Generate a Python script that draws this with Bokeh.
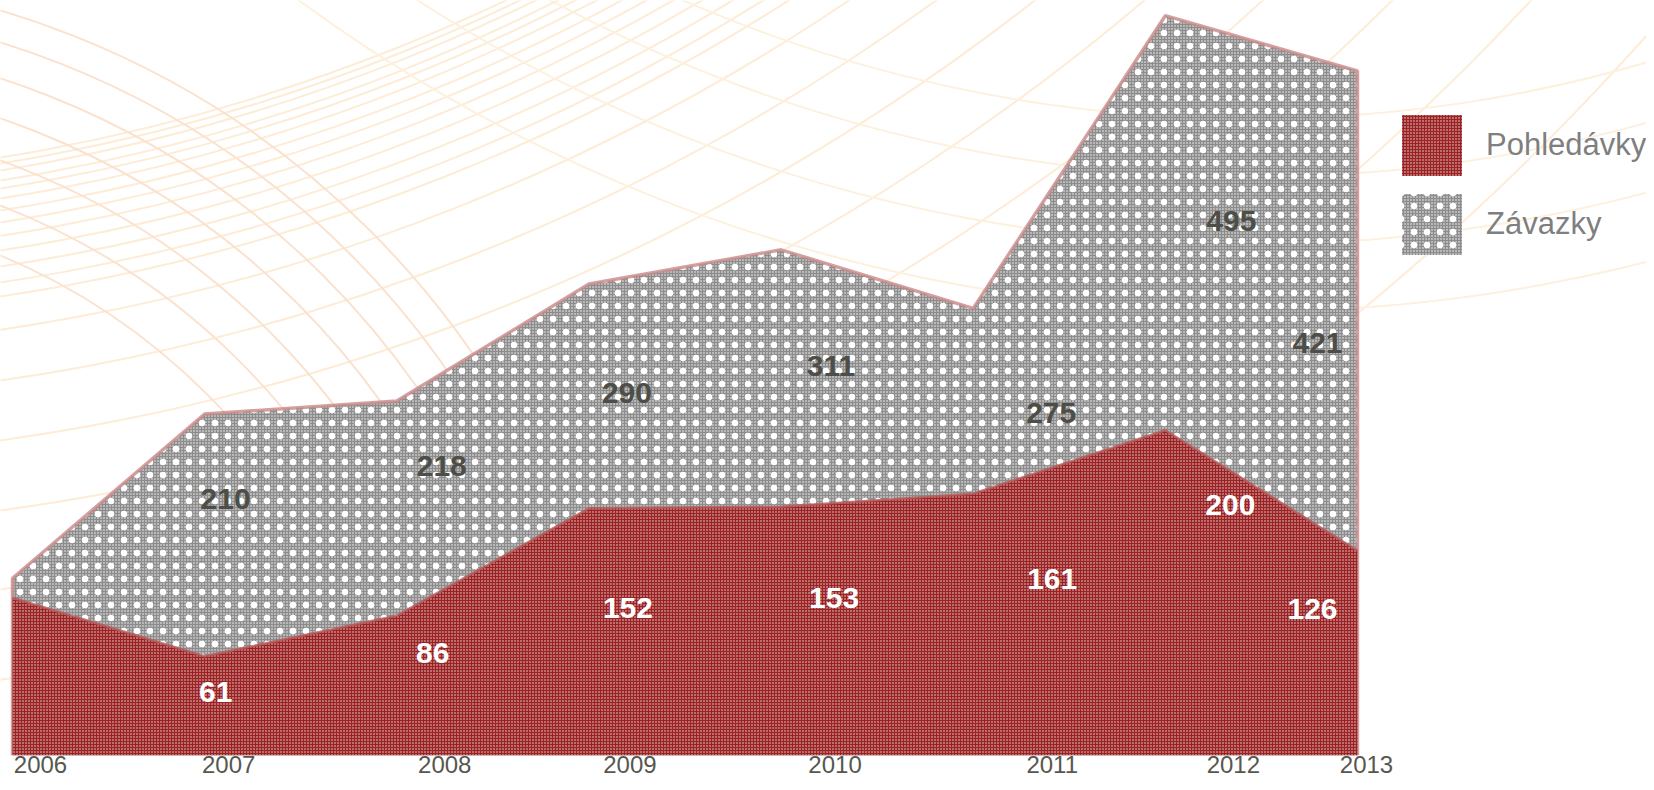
import numpy as np
from bokeh.plotting import figure
from bokeh.models import (ColumnDataSource, Range1d, FixedTicker, CustomJSTickFormatter,
                          Legend, LegendItem)
from bokeh.core.properties import value
from bokeh.embed import file_html
from bokeh.resources import INLINE

# ---------------- data ----------------
years = ["2006", "2007", "2008", "2009", "2010", "2011", "2012", "2013"]
pohledavky = [97, 61, 86, 152, 153, 161, 200, 126]      # plotted heights
zavazky = [109, 210, 218, 290, 311, 275, 455, 421]      # plotted heights
pohledavky_labels = ["61", "86", "152", "153", "161", "200", "126"]   # 2007-2013
zavazky_labels = ["210", "218", "290", "311", "275", "495", "421"]    # 2007-2013

# ---------------- style / layout ----------------
FONT = "Liberation Sans"
W, H = 1646, 782
AXIS_H = 27
FH = H - AXIS_H        # frame height
PX_X = 192.14          # px per category step
PX_Y = 1.626           # px per unit
X0 = -12 / PX_X
X1 = X0 + W / PX_X
Y1 = FH / PX_Y

year_nudge_px = [28, 24, 48, 41, 54, 79, 68, 9]
zav_dx = [21, 45, 38, 50, 78, 66, -40]
zav_dy = [85, 65, 109, 116, 105, 205, 272]
poh_dx = [11, 36, 39, 53, 79, 65, -45]
poh_dy = [36, 37, 100, 91, 85, 75, 58]

idx = list(range(len(years)))

p = figure(width=W, height=H, x_range=Range1d(X0, X1), y_range=Range1d(0, Y1),
           output_backend="svg", toolbar_location=None, y_axis_location=None,
           min_border=0, min_border_left=0, min_border_right=0,
           min_border_top=0, min_border_bottom=AXIS_H)
p.outline_line_color = None
p.xgrid.visible = False
p.ygrid.visible = False
p.background_fill_color = "white"
p.border_fill_color = "white"

# ---------------- decorative background arcs (screen-size circles) ----------------
def dx(px):
    return (px - 12) / PX_X

def dy(py):
    return (FH - py) / PX_Y

# family A: centred far upper-left
ca = (-300, -1700)
a_y0 = [157, 163, 170, 180, 188, 198, 210, 222, 236, 250, 266, 282, 296,
        330, 380, 440, 510, 590, 680, 780, 890]
a_d = [2 * np.hypot(0 - ca[0], y0 - ca[1]) for y0 in a_y0]
p.scatter(x=[dx(ca[0])] * len(a_d), y=[dy(ca[1])] * len(a_d), size=a_d,
          marker="circle", fill_alpha=0, line_color="#fdecd6", line_width=2)
# family B: centred lower-left
cb = (-250, 850)
b_y0 = [10, 42, 78, 118, 160, 205, 255]
b_d = [2 * np.hypot(0 - cb[0], y0 - cb[1]) for y0 in b_y0]
p.scatter(x=[dx(cb[0])] * len(b_d), y=[dy(cb[1])] * len(b_d), size=b_d,
          marker="circle", fill_alpha=0, line_color="#fbe2cf", line_width=2)
# family C: centred upper-right
cc = (1250, -1300)
c_y0 = [60, 120, 190, 260]
c_d = [2 * np.hypot(1654 - cc[0], y0 - cc[1]) for y0 in c_y0]
p.scatter(x=[dx(cc[0])] * len(c_d), y=[dy(cc[1])] * len(c_d), size=c_d,
          marker="circle", fill_alpha=0, line_color="#fdf1de", line_width=2)

# ---------------- areas ----------------
zav_src = ColumnDataSource(dict(x=idx, y=zavazky))
poh_src = ColumnDataSource(dict(x=idx, y=pohledavky))

zav_area = p.varea(x="x", y1=0, y2="y", source=zav_src, fill_color="#8c8c8c",
                   hatch_pattern="dot", hatch_color="white", hatch_scale=3,
                   hatch_weight=2.0, hatch_alpha=0.95)
zav_dots = p.varea(x="x", y1=0, y2="y", source=zav_src, fill_alpha=0,
                   hatch_pattern="dot", hatch_color="white", hatch_scale=13,
                   hatch_weight=3.0, hatch_alpha=1)
p.line(x=[idx[0]] + idx + [idx[-1]], y=[0] + zavazky + [0], line_color="#c98a8a",
       line_width=3.5, line_alpha=0.8)

poh_area = p.varea(x="x", y1=0, y2="y", source=poh_src, fill_color="#9a2222",
                   hatch_pattern="dot", hatch_color="white", hatch_scale=3,
                   hatch_weight=1.4, hatch_alpha=0.85)
p.line(x="x", y="y", source=poh_src, line_color="#b85a5a", line_width=2.5,
       line_alpha=0.8)

# ---------------- data labels ----------------
zl = ColumnDataSource(dict(x=idx[1:], y=zavazky[1:], t=zavazky_labels,
                           xo=zav_dx, yo=zav_dy))
pl = ColumnDataSource(dict(x=idx[1:], y=pohledavky[1:], t=pohledavky_labels,
                           xo=poh_dx, yo=poh_dy))
p.text(x="x", y="y", text="t", x_offset="xo", y_offset="yo", source=zl,
       text_font=value(FONT), text_font_size="30px", text_font_style="bold",
       text_color="#4e4e48", text_align="center", text_baseline="middle")
p.text(x="x", y="y", text="t", x_offset="xo", y_offset="yo", source=pl,
       text_font=value(FONT), text_font_size="30px", text_font_style="bold",
       text_color="white", text_align="center", text_baseline="middle")

# ---------------- x axis ----------------
ticks = [i + n / PX_X for i, n in zip(idx, year_nudge_px)]
ax = p.xaxis[0]
ax.ticker = FixedTicker(ticks=ticks)
ax.formatter = CustomJSTickFormatter(args=dict(labels=years), code="return labels[index];")
ax.axis_line_color = None
ax.major_tick_line_color = None
ax.minor_tick_line_color = None
ax.major_tick_out = 0
ax.major_tick_in = 0
ax.major_label_standoff = 0
ax.major_label_text_font = FONT
ax.major_label_text_font_size = "24px"
ax.major_label_text_color = "#57574f"

# ---------------- legend ----------------
legend = Legend(items=[LegendItem(label="Pohledávky", renderers=[poh_area]),
                       LegendItem(label="Závazky", renderers=[zav_area, zav_dots])],
                location=(1394, 493), orientation="vertical",
                glyph_width=75, glyph_height=76, label_height=76, spacing=3,
                label_standoff=17, padding=0, margin=0,
                border_line_alpha=0, background_fill_alpha=0,
                label_text_font=FONT, label_text_font_size="31px",
                label_text_color="#7f7f7f")
p.add_layout(legend, "center")

open("out.html", "w").write(file_html(p, INLINE))
